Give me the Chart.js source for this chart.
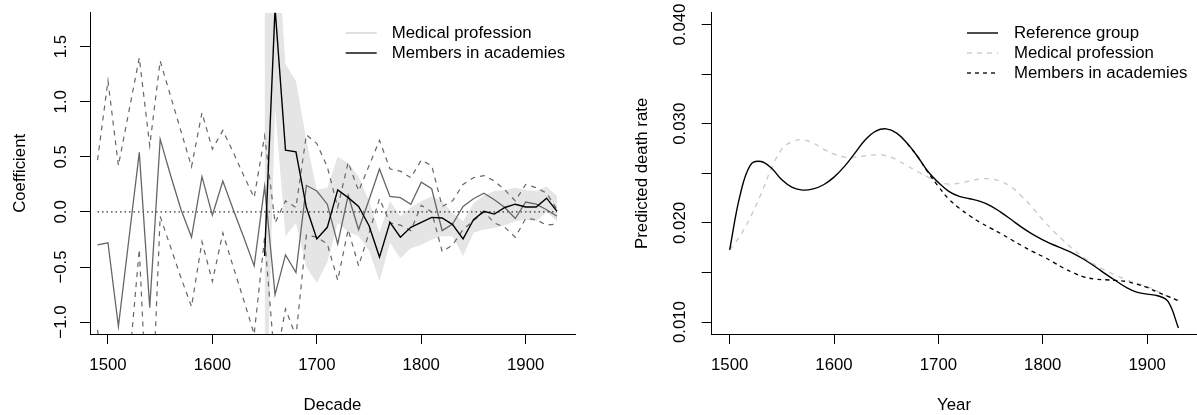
<!DOCTYPE html>
<html>
<head>
<meta charset="utf-8">
<script src="https://cdn.jsdelivr.net/npm/chart.js@4.4.1/dist/chart.umd.min.js"></script>
<style>
  html, body { margin: 0; padding: 0; background: #fff; }
  #wrap { position: relative; width: 1197px; height: 415px; }
  canvas { position: absolute; top: 0; }
  #left { left: 0; }
  #right { left: 598px; }
</style>
</head>
<body>
<div id="wrap">
  <canvas id="left" width="598" height="415"></canvas>
  <canvas id="right" width="599" height="415"></canvas>
</div>
<script>
// ---- left panel: coefficients by decade ----
const decades = [1490, 1500, 1510, 1520, 1530, 1540, 1550, 1560, 1570, 1580,
  1590, 1600, 1610, 1620, 1630, 1640, 1650, 1660, 1670, 1680,
  1690, 1700, 1710, 1720, 1730, 1740, 1750, 1760, 1770, 1780,
  1790, 1800, 1810, 1820, 1830, 1840, 1850, 1860, 1870, 1880,
  1890, 1900, 1910, 1920, 1930];

const medCoef = [-0.30, -0.28, -1.04, -0.25, 0.54, -0.87, 0.66, 0.33, 0.02, -0.23,
  0.32, -0.03, 0.28, 0.02, -0.23, -0.49, 0.23, -0.75, -0.39, -0.55,
  0.24, 0.19, 0.07, -0.29, 0.15, -0.16, 0.11, 0.39, 0.14, 0.13,
  0.07, 0.27, 0.21, -0.17, -0.11, 0.05, 0.12, 0.17, 0.11, 0.04,
  -0.06, 0.09, 0.07, 0.02, -0.04];

const medUpper = [0.47, 1.19, 0.42, 0.91, 1.40, 0.60, 1.37, 1.05, 0.73, 0.41,
  0.90, 0.57, 0.74, 0.54, 0.33, 0.13, 0.69, -0.10, 0.10, 0.04,
  0.70, 0.62, 0.41, 0.04, 0.45, 0.19, 0.42, 0.65, 0.39, 0.37,
  0.31, 0.47, 0.42, 0.05, 0.10, 0.25, 0.31, 0.33, 0.28, 0.20,
  0.10, 0.25, 0.22, 0.17, 0.02];

const medLower = [-1.07, -1.75, -2.50, -1.41, -0.34, -2.33, -0.04, -0.32, -0.60, -0.86,
  -0.27, -0.63, -0.19, -0.50, -0.80, -1.11, -0.23, -1.40, -0.88, -1.13,
  -0.21, -0.23, -0.29, -0.62, -0.16, -0.49, -0.19, 0.12, -0.10, -0.12,
  -0.17, 0.06, 0.00, -0.36, -0.30, -0.16, -0.08, 0.00, -0.10, -0.14,
  -0.23, -0.06, -0.07, -0.12, -0.11];

const acadCoef = [null, null, null, null, null, null, null, null, null, null,
  null, null, null, null, null, null, -0.40, 1.85, 0.56, 0.545,
  0.04, -0.245, -0.14, 0.20, 0.13, 0.05, -0.125, -0.41, -0.095, -0.23,
  -0.14, -0.095, -0.05, -0.055, -0.115, -0.245, -0.07, 0.005, -0.02, 0.04,
  0.07, 0.045, 0.045, 0.125, 0.005];

const acadUpper = [null, null, null, null, null, null, null, null, null, null,
  null, null, null, null, null, null, 2.60, 2.75, 1.34, 1.19,
  0.65, 0.20, 0.22, 0.50, 0.445, 0.32, 0.10, -0.19, 0.10, -0.04,
  0.04, 0.10, 0.14, 0.10, -0.01, -0.085, 0.08, 0.15, 0.19, 0.20,
  0.22, 0.20, 0.19, 0.23, 0.145];

const acadLower = [null, null, null, null, null, null, null, null, null, null,
  null, null, null, null, null, null, -2.50, 0.945, -0.22, -0.10,
  -0.50, -0.645, -0.46, -0.10, -0.18, -0.22, -0.35, -0.63, -0.28, -0.42,
  -0.33, -0.30, -0.25, -0.22, -0.22, -0.40, -0.19, -0.16, -0.145, -0.12,
  -0.085, -0.07, -0.085, 0.00, -0.085];

const leftYTicks = [-1.0, -0.5, 0.0, 0.5, 1.0, 1.5];
const xTicks = [1500, 1600, 1700, 1800, 1900];

// ---- right panel: predicted death rate by year ----
const years = [1500, 1510, 1520, 1530, 1540, 1550, 1560, 1570, 1580, 1590,
  1600, 1610, 1620, 1630, 1640, 1650, 1660, 1670, 1680, 1690,
  1700, 1710, 1720, 1730, 1740, 1750, 1760, 1770, 1780, 1790,
  1800, 1810, 1820, 1830, 1840, 1850, 1860, 1870, 1880, 1890,
  1900, 1910, 1920, 1930];

const refRate = [0.01729, 0.0228, 0.02586, 0.0262, 0.02553, 0.02435, 0.02358, 0.02331, 0.02343, 0.02385,
  0.02462, 0.0257, 0.02704, 0.02838, 0.02926, 0.02949, 0.02906, 0.02805, 0.0267, 0.02519,
  0.02408, 0.02318, 0.02267, 0.02244, 0.02217, 0.02173, 0.02106, 0.02032, 0.01955, 0.01887,
  0.0183, 0.0178, 0.01736, 0.01689, 0.01629, 0.01561, 0.01487, 0.01417, 0.0135, 0.01302,
  0.01282, 0.01266, 0.01208, 0.0094];

const medRate = [0.01729, 0.0187, 0.0206, 0.0229, 0.0255, 0.02744, 0.02822, 0.02838, 0.02805, 0.02744,
  0.02694, 0.02664, 0.02664, 0.02677, 0.02687, 0.02677, 0.02637, 0.02576, 0.02519, 0.02462,
  0.02412, 0.02391, 0.02402, 0.02422, 0.02442, 0.02445, 0.02418, 0.02361, 0.02267, 0.02156,
  0.02032, 0.01921, 0.0182, 0.01729, 0.01645, 0.01578, 0.01521, 0.01471, 0.01427, 0.01393,
  0.0136, 0.0131, 0.0126, 0.0122];

const acadRate = [null, null, null, null, null, null, null, null, null, null,
  null, null, null, null, null, null, null, 0.02805, 0.0267, 0.0251,
  0.02368, 0.0224, 0.02149, 0.02072, 0.02005, 0.01948, 0.01891, 0.0183, 0.0177, 0.01713,
  0.01662, 0.01605, 0.01544, 0.01494, 0.01454, 0.01434, 0.01427, 0.0142, 0.0141, 0.01383,
  0.0135, 0.01302, 0.01259, 0.01215];

const rightYTicks = [0.010, 0.015, 0.020, 0.025, 0.030, 0.035, 0.040];
const rightYLabels = [0.010, 0.020, 0.030, 0.040];

const FONT = "'Liberation Sans', Arial, Helvetica, sans-serif";
const FONT_SIZE = 16.8;
Chart.defaults.font.family = FONT;
Chart.defaults.font.size = FONT_SIZE;
Chart.defaults.color = '#000';

function toPoints(xs, ys) {
  return xs.map((x, i) => ({ x: x, y: ys[i] })).filter(p => p.y !== null);
}

function minus(s) {
  return s.replace('-', '\u2212');
}

// R-style legend drawn straight onto the canvas
const rLegend = {
  id: 'rLegend',
  afterDraw(chart, args, opts) {
    const ctx = chart.ctx;
    ctx.save();
    ctx.font = FONT_SIZE + 'px ' + FONT;
    ctx.textBaseline = 'middle';
    ctx.textAlign = 'left';
    opts.items.forEach((it, i) => {
      const y = opts.y + i * opts.gap;
      ctx.strokeStyle = it.color;
      ctx.lineWidth = it.width;
      ctx.setLineDash(it.dash || []);
      ctx.beginPath();
      ctx.moveTo(opts.x, y);
      ctx.lineTo(opts.x + opts.len, y);
      ctx.stroke();
      ctx.fillStyle = '#000';
      ctx.fillText(it.text, opts.x + opts.len + opts.space, y);
    });
    ctx.restore();
  }
};

function axis(min, max, tickVals, fmt, title, extra) {
  return Object.assign({
    type: 'linear',
    min: min,
    max: max,
    afterBuildTicks: s => { s.ticks = tickVals.map(v => ({ value: v })); },
    grid: { display: true, drawOnChartArea: false, drawTicks: true, tickLength: 10, color: '#000', lineWidth: 1 },
    border: { display: true, color: '#000', width: 1 },
    ticks: { autoSkip: false, callback: fmt, color: '#000' },
    title: { display: true, text: title, color: '#000', font: { size: FONT_SIZE } }
  }, extra);
}

function xAxis(title) {
  const a = axis(1482.8, 1947.2, xTicks, v => String(v), title, {
    afterFit: s => { s.height = 81; }
  });
  a.ticks.padding = 11;
  a.ticks.maxRotation = 0;
  a.ticks.minRotation = 0;
  a.title.padding = { top: 0, bottom: 0 };
  return a;
}

function yAxis(min, max, tickVals, fmt, title, width, labelPad, titlePad) {
  const a = axis(min, max, tickVals, fmt, title, {
    afterFit: s => { s.width = width; }
  });
  a.ticks.padding = labelPad;
  a.ticks.minRotation = 90;
  a.ticks.maxRotation = 90;
  a.ticks.crossAlign = 'center';
  a.title.padding = { top: titlePad, bottom: 0 };
  return a;
}

const baseOptions = {
  responsive: false,
  animation: false,
  events: [],
  plugins: { legend: { display: false }, tooltip: { enabled: false } },
  elements: { point: { radius: 0 } }
};

// left chart
new Chart(document.getElementById('left'), {
  type: 'line',
  data: {
    datasets: [
      { data: toPoints(decades, acadLower), borderWidth: 0, borderColor: 'rgba(0,0,0,0)', fill: false, order: 10 },
      { data: toPoints(decades, acadUpper), borderWidth: 0, borderColor: 'rgba(0,0,0,0)', backgroundColor: '#e5e5e5', fill: '-1', order: 10 },
      { data: [{ x: decades[0], y: 0 }, { x: decades[decades.length - 1], y: 0 }], borderColor: '#333', borderWidth: 1.2, borderDash: [1.5, 3], order: 8 },
      { data: toPoints(decades, medUpper), borderColor: '#666', borderWidth: 1.2, borderDash: [5, 5], order: 5 },
      { data: toPoints(decades, medLower), borderColor: '#666', borderWidth: 1.2, borderDash: [5, 5], order: 5 },
      { data: toPoints(decades, medCoef), borderColor: '#666', borderWidth: 1.3, order: 3 },
      { data: toPoints(decades, acadCoef), borderColor: '#000', borderWidth: 1.4, order: 1 }
    ]
  },
  options: Object.assign({}, baseOptions, {
    layout: { padding: { top: 12.7, right: 23, left: 0, bottom: 0 } },
    scales: {
      x: xAxis('Decade'),
      y: yAxis(-1.108, 1.808, leftYTicks, v => minus(v.toFixed(1)), 'Coefficient', 90, 2, 10)
    },
    plugins: {
      legend: { display: false },
      tooltip: { enabled: false },
      rLegend: {
        x: 345.7, y: 33, gap: 20, len: 31, space: 15,
        items: [
          { text: 'Medical profession', color: '#d3d3d3', width: 1.4 },
          { text: 'Members in academies', color: '#000', width: 1.4 }
        ]
      }
    }
  }),
  plugins: [rLegend]
});

// right chart
new Chart(document.getElementById('right'), {
  type: 'line',
  data: {
    datasets: [
      { data: toPoints(years, medRate), borderColor: '#c8c8c8', borderWidth: 1.3, borderDash: [5, 5], tension: 0.4, order: 3 },
      { data: toPoints(years, acadRate), borderColor: '#000', borderWidth: 1.3, borderDash: [4, 4], tension: 0.4, order: 2 },
      { data: toPoints(years, refRate), borderColor: '#000', borderWidth: 1.4, tension: 0.4, order: 1 }
    ]
  },
  options: Object.assign({}, baseOptions, {
    layout: { padding: { top: 12.7, right: 0.6, left: 0, bottom: 0 } },
    scales: {
      x: xAxis('Year'),
      y: yAxis(0.0088, 0.0412, rightYTicks,
        v => rightYLabels.some(l => Math.abs(l - v) < 1e-9) ? v.toFixed(3) : '',
        'Predicted death rate', 113.7, 0, 34)
    },
    plugins: {
      legend: { display: false },
      tooltip: { enabled: false },
      rLegend: {
        x: 369, y: 33, gap: 20, len: 31, space: 16,
        items: [
          { text: 'Reference group', color: '#000', width: 1.4 },
          { text: 'Medical profession', color: '#c8c8c8', width: 1.3, dash: [5, 5] },
          { text: 'Members in academies', color: '#000', width: 1.3, dash: [4, 4] }
        ]
      }
    }
  }),
  plugins: [rLegend]
});
</script>
</body>
</html>
